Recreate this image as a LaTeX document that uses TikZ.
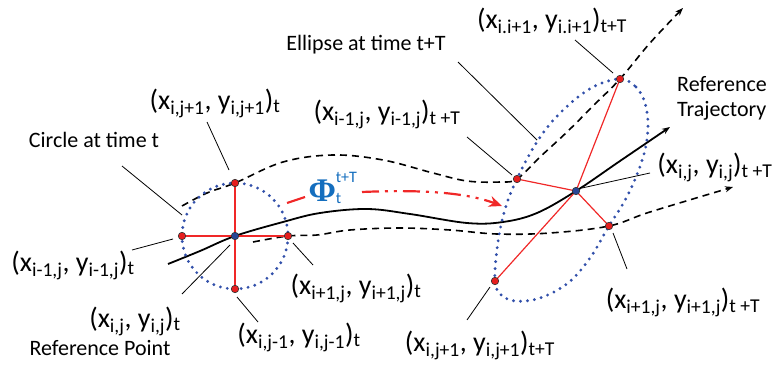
\documentclass[tikz,border=0pt]{standalone}
\usepackage{fontspec}
\setmainfont{Carlito}
\newfontfamily\phifont{Liberation Serif}
\usetikzlibrary{arrows.meta}
\definecolor{dotblue}{RGB}{50,80,170}
\definecolor{ptred}{RGB}{230,30,30}
\definecolor{ptblue}{RGB}{40,70,150}
\definecolor{phiblue}{RGB}{20,110,190}
\definecolor{linered}{RGB}{240,40,40}
\newcommand{\crd}[2]{(x\textsubscript{#1}, y\textsubscript{#1})\textsubscript{#2}}
\begin{document}
\begin{tikzpicture}[x=1pt,y=-1pt,
  redpt/.style={circle,fill=ptred,draw=black!80,line width=0.6pt,inner sep=0pt,minimum size=7.5pt},
  bluept/.style={circle,fill=ptblue,draw=black!80,line width=0.6pt,inner sep=0pt,minimum size=7.5pt},
  coordlbl/.style={inner sep=0pt,font=\fontsize{28}{30}\selectfont},
  desclbl/.style={inner sep=0pt,font=\fontsize{22}{25}\selectfont,align=left},
  leader/.style={line width=0.8pt,black},
  gridline/.style={linered,line width=1.2pt},
  dotcurve/.style={dotblue,line width=3.2pt,line cap=round,dash pattern=on 0pt off 7pt},
  dashcurve/.style={line width=1.6pt,dash pattern=on 7pt off 5pt},
  tipk/.style={-{Stealth[length=8pt,width=6pt]}},
  phiarrow/.style={linered,line width=2.2pt}
]
\useasboundingbox (0,0) rectangle (783,371);

% centres
\coordinate (cc) at (235,236);
\coordinate (ec) at (576,191);
% ellipse point positions
\coordinate (eT) at (620,79);
\coordinate (eR) at (609,226);
\coordinate (eBL) at (495,281);
\coordinate (eUL) at (517,179);

% curves
\draw[line width=1.8pt,tipk] plot[smooth,tension=0.6] coordinates {(168,264) (200,251) (235,236) (283,222) (320,213) (367,209) (410,214) (467,223) (503,222) (537,213) (576,191) (620,161) (670,127)};
\draw[dashcurve,tipk] plot[smooth,tension=0.6] coordinates {(182,206) (207,193) (235,183) (283,162) (333,155) (383,160) (433,173) (467,181) (500,182) (517,179) (540,157) (567,132) (593,106) (620,79) (650,43) (683,8)};
\draw[dashcurve,tipk] plot[smooth,tension=0.6] coordinates {(253,242) (288,236) (317,235) (350,230) (400,228) (450,230) (497,234) (550,233) (609,226) (650,212) (733,187)};

% dotted circle and ellipse
\draw[dotcurve] (cc) circle [radius=53];
\draw[dotcurve] plot[smooth cycle,tension=0.6] coordinates {(620,79) (636,87) (645,103) (648,125) (645,150) (636,177) (624,202) (609,226) (590,258) (568,283) (540,298) (515,301) (500,294) (495,281) (496,258) (500,230) (507,203) (517,179) (532,150) (550,124) (572,102) (595,86)};

% red grid lines
\draw[gridline] (235,183) -- (235,289);
\draw[gridline] (182,236) -- (288,236);
\draw[gridline] (ec) -- (eT);
\draw[gridline] (ec) -- (eR);
\draw[gridline] (ec) -- (eBL);
\draw[gridline] (ec) -- (eUL);

% point nodes
\node[redpt] (ct) at (235,183) {};
\node[redpt] (cb) at (235,289) {};
\node[redpt] (cl) at (182,236) {};
\node[redpt] (cr) at (288,236) {};
\node[redpt] (pT) at (eT) {};
\node[redpt] (pR) at (eR) {};
\node[redpt] (pBL) at (eBL) {};
\node[redpt] (pUL) at (eUL) {};
\node[bluept] (cB) at (cc) {};
\node[bluept] (eB) at (ec) {};

% Phi mapping arrow
\node[text=phiblue,inner sep=0pt] (phi) at (333,188) {$\mbox{\fontsize{33}{33}\selectfont\phifont\bfseries Φ}^{\mbox{\fontsize{16}{16}\selectfont t+T}}_{\mbox{\fontsize{16}{16}\selectfont t}}$};
\coordinate (phiA) at (287,203);
\coordinate (phiB) at (305,197);
\coordinate (phiC) at (362,192);
\coordinate (phiD) at (502,206);
\draw[phiarrow] (phiA) -- (phiB);
\draw[phiarrow,dash pattern=on 17pt off 6pt on 3pt off 6pt on 3pt off 6pt,-{Stealth[length=13pt,width=11pt]}] (phiC) .. controls (430,189) and (470,194) .. (phiD);

% labels
\node[coordlbl] (l1) at (215,103) {\crd{i,j+1}{t}};
\node[desclbl] (l2) at (94,140) {Circle at time t};
\node[coordlbl] (l3) at (73,265) {\crd{i-1,j}{t}};
\node[coordlbl] (l4) at (135,321) {\crd{i,j}{t}};
\node[desclbl] (l5) at (100,348) {Reference Point};
\node[coordlbl] (l6) at (299,337) {\crd{i,j-1}{t}};
\node[coordlbl] (l7) at (356,288) {\crd{i+1,j}{t}};
\node[desclbl] (l8) at (366,45) {Ellipse at time t+T};
\node[coordlbl] (l9) at (387,114) {\crd{i-1,j}{t +T}};
\node[coordlbl] (l10) at (552,21) {\crd{i.i+1}{t+T}};
\node[desclbl,anchor=north west] (l11) at (677,76) {Reference\\Trajectory};
\node[coordlbl] (l12) at (715,167) {\crd{i,j}{t +T}};
\node[coordlbl] (l13) at (683,302) {\crd{i+1,j}{t +T}};
\node[coordlbl] (l14) at (480,345) {\crd{i,j+1}{t+T}};

% leader lines
\coordinate (a1) at (207,122); \coordinate (b1) at (229,170);
\coordinate (a2) at (122,166); \coordinate (b2) at (182,215);
\coordinate (a3) at (132,250); \coordinate (b3) at (173,239);
\coordinate (a4) at (182,294); \coordinate (b4) at (230,245);
\coordinate (a6) at (258,322); \coordinate (b6) at (237,297);
\coordinate (a7) at (313,265); \coordinate (b7) at (293,243);
\coordinate (a8) at (458,62);  \coordinate (b8) at (537,140);
\coordinate (a9) at (467,137); \coordinate (b9) at (512,175);
\coordinate (a10) at (575,40); \coordinate (b10) at (613,73);
\coordinate (a12) at (650,173); \coordinate (b12) at (582,188);
\coordinate (a13) at (627,269); \coordinate (b13) at (613,233);
\coordinate (a14) at (467,320); \coordinate (b14) at (490,287);
\foreach \i in {1,2,3,4,6,7,8,9,10,12,13,14} {\draw[leader] (a\i) -- (b\i);}
\end{tikzpicture}
\end{document}
